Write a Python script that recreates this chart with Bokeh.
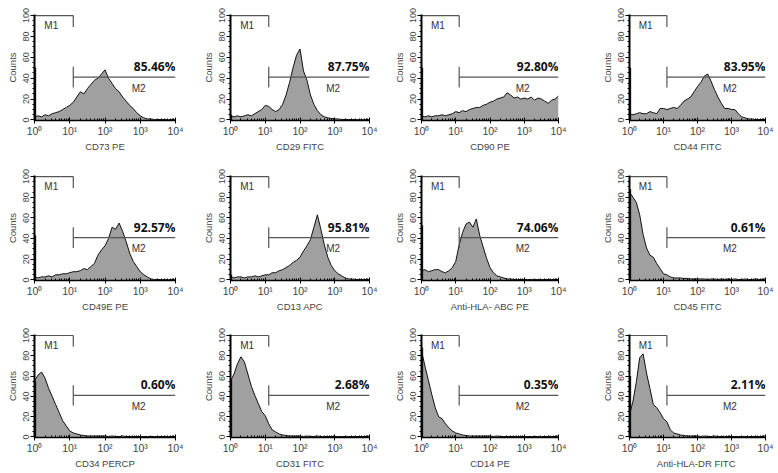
from bokeh.plotting import figure
from bokeh.layouts import gridplot
from bokeh.models import Range1d, FixedTicker, CustomJSTickFormatter
from bokeh.core.properties import value
from bokeh.embed import file_html
from bokeh.resources import INLINE

# log10 channel positions (decades) at which counts were read
decades = [0.0, 0.1, 0.2, 0.3, 0.4, 0.5, 0.6, 0.7, 0.8, 0.9,
           1.0, 1.1, 1.2, 1.3, 1.4, 1.5, 1.6, 1.7, 1.8, 1.9,
           2.0, 2.1, 2.2, 2.3, 2.4, 2.5, 2.6, 2.7, 2.8, 2.9,
           3.0, 3.1, 3.2, 3.3, 3.4, 3.5, 3.6, 3.7, 3.8, 3.9, 4.0]

cd73 = [3, 4, 3, 5, 4, 6, 7, 8, 10, 12,
        14, 17, 22, 27, 25, 30, 34, 38, 40, 44,
        48, 40, 35, 30, 27, 22, 18, 14, 11, 7,
        4, 2, 1, 1, 0.5, 0.5, 0.5, 0.3, 0.3, 0.3, 0.3]
cd29 = [4, 3, 4, 3, 4, 5, 4, 6, 8, 10,
        14, 13, 10, 8, 10, 15, 24, 36, 50, 62,
        68, 47, 38, 24, 15, 9, 5, 3, 2, 1.5,
        1, 1, 0.5, 0.5, 0.5, 0.5, 0.3, 0.3, 0.3, 0.3, 0.3]
cd90 = [4, 3, 4, 3, 4, 4, 5, 4, 5, 6,
        8, 7, 9, 8, 10, 11, 12, 12, 14, 15,
        17, 18, 20, 21, 22, 26, 24, 21, 22, 20,
        21, 20, 22, 19, 21, 20, 18, 16, 19, 20, 23]
cd44 = [6, 5, 6, 7, 6, 6, 8, 7, 6, 11,
        11, 10, 11, 12, 11, 14, 18, 20, 22, 27,
        32, 36, 42, 44, 37, 29, 22, 16, 11, 11,
        10, 10, 6, 3, 2, 1, 1, 0.5, 0.5, 0.5, 0.5]
cd49e = [3, 2, 3, 3, 4, 3, 5, 5, 6, 6,
         7, 8, 8, 9, 11, 10, 13, 16, 24, 29,
         33, 40, 51, 49, 55, 47, 37, 26, 18, 13,
         8, 5, 3, 1, 0.5, 0.5, 0.3, 0.3, 0.3, 0.3, 0.3]
cd13 = [3, 2, 3, 3, 2, 3, 3, 4, 3, 4,
        5, 5, 7, 7, 9, 10, 12, 14, 17, 19,
        22, 28, 33, 39, 51, 63, 49, 34, 22, 14,
        9, 6, 4, 2, 1, 1, 0.5, 0.5, 0.5, 0.5, 0.5]
hla_abc = [9, 10, 8, 9, 10, 10, 8, 7, 9, 12,
           18, 34, 46, 54, 56, 51, 59, 43, 32, 21,
           12, 7, 4, 3, 2, 1, 1, 0.5, 0.5, 0.5,
           0.5, 0.5, 0.5, 0.5, 0.5, 0.5, 0.5, 0.5, 0.5, 0.5, 0.5]
cd45 = [85, 80, 75, 63, 44, 31, 24, 22, 16, 11,
        6, 5, 3, 2, 2, 2, 1.5, 1.5, 1, 1,
        1, 1, 1, 0.5, 1, 1, 0.5, 1, 0.5, 1,
        0.5, 1, 0.5, 0.5, 1, 0.5, 0.5, 1, 0.5, 0.5, 1]
cd34 = [55, 61, 64, 58, 48, 40, 32, 24, 16, 11,
        6, 4, 3, 2, 1.5, 1, 1, 1, 1, 1,
        1, 0.5, 1, 0.5, 0.5, 1, 0.5, 0.5, 0.5, 0.5,
        0.5, 0.5, 0.5, 0.5, 0.5, 0.5, 0.5, 0.5, 0.5, 0.5, 0.5]
cd31 = [55, 62, 72, 79, 74, 62, 50, 41, 33, 25,
        21, 13, 7, 5, 3, 2, 1.5, 1, 1, 1,
        1, 0.5, 1, 0.5, 0.5, 1, 0.5, 0.5, 0.5, 0.5,
        0.5, 0.5, 0.5, 0.5, 0.5, 0.5, 0.5, 0.5, 0.5, 0.5, 1]
cd14 = [85, 70, 56, 42, 29, 20, 18, 13, 9, 6,
        4, 3, 2, 1.5, 1, 1, 1, 1, 1, 1,
        1, 0.5, 1, 0.5, 0.5, 0.5, 0.5, 0.5, 0.5, 0.5,
        0.5, 0.5, 0.5, 0.5, 0.5, 0.5, 0.5, 0.5, 0.5, 0.5, 1]
hla_dr = [22, 35, 54, 78, 82, 63, 48, 32, 29, 24,
          18, 15, 7, 4, 3, 2, 1.5, 1, 1, 1,
          1, 0.5, 1, 0.5, 0.5, 1, 0.5, 0.5, 0.5, 0.5,
          0.5, 0.5, 0.5, 0.5, 0.5, 0.5, 0.5, 0.5, 0.5, 0.5, 1]

series = [cd73, cd29, cd90, cd44, cd49e, cd13, hla_abc, cd45, cd34, cd31, cd14, hla_dr]
first_channel = [50, 5, 50, 50, 43, 5, 53, 88, 55, 57, 88, 60]
markers = ["CD73 PE", "CD29 FITC", "CD90 PE", "CD44 FITC",
           "CD49E PE", "CD13 APC", "Anti-HLA- ABC PE", "CD45 FITC",
           "CD34 PERCP", "CD31 FITC", "CD14 PE", "Anti-HLA-DR  FITC"]
m2_percent = ["85.46%", "87.75%", "92.80%", "83.95%",
              "92.57%", "95.81%", "74.06%", "0.61%",
              "0.60%", "2.68%", "0.35%", "2.11%"]

# gate definitions (M1: 10^0 .. gate_split, M2: gate_split .. 10^4)
gate_split = 12.6
m1_level = 100
m2_level = 41

x_ticks = [1, 10, 100, 1000, 10000]
x_minor = [m * 10 ** k for k in range(4) for m in range(2, 10)]
y_ticks = [0, 20, 40, 60, 80, 100]
y_minor = [v for v in range(0, 101, 5) if v % 20]

col_w = [196, 194, 208, 176]
left_b = [34, 34, 30, 30]
right_b = [21, 21, 40, 9]
row_h = [158, 158, 155]
top_b = [14, 17, 18]
bottom_b = [38, 36, 33]

FONT = value("Liberation Sans")
fmt = CustomJSTickFormatter(code="""
const s = ['\u2070', '\u00b9', '\u00b2', '\u00b3', '\u2074'];
const e = Math.round(Math.log10(tick));
return '10' + s[e];
""")


def make(i, r, c):
    p = figure(width=col_w[c], height=row_h[r], x_axis_type="log",
               x_range=Range1d(1, 10000), y_range=Range1d(-0.5, 101),
               output_backend="svg", toolbar_location=None,
               min_border_left=left_b[c], min_border_right=right_b[c],
               min_border_top=top_b[r], min_border_bottom=bottom_b[r])
    p.outline_line_color = None
    p.grid.visible = False
    p.background_fill_color = "white"
    xs = [10 ** d for d in decades]
    ys = series[i]
    p.varea(x=xs, y1=[0] * len(xs), y2=ys, fill_color="#a0a0a0")
    p.line(xs, ys, line_color="#111111", line_width=1)
    p.segment(x0=[1.045], y0=[0], x1=[1.045], y1=[first_channel[i]],
              line_color="#111111", line_width=2)
    gc = "#555555"
    p.line([1, gate_split], [m1_level, m1_level], line_color=gc, line_width=1.2)
    p.segment(x0=[gate_split], y0=[m1_level - 11], x1=[gate_split], y1=[m1_level],
              line_color=gc, line_width=1.2)
    p.line([gate_split, 10000], [m2_level, m2_level], line_color=gc, line_width=1.2)
    p.segment(x0=[gate_split], y0=[m2_level - 10], x1=[gate_split], y1=[m2_level + 10],
              line_color=gc, line_width=1.2)
    p.text(x=[3.0], y=[90], text=["M1"], text_font=FONT, text_font_size="10px",
           text_color="#333333", text_align="center", text_baseline="middle")
    p.text(x=[900], y=[30], text=["M2"], text_font=FONT, text_font_size="10px",
           text_color="#333333", text_align="center", text_baseline="middle")
    p.text(x=[10000], y=[m2_level + 2], text=[m2_percent[i]], text_font=value("Open Sans"),
           text_font_size="12px", text_font_style="bold", text_color="#111111",
           text_align="right", text_baseline="bottom")

    xa = p.xaxis[0]
    xa.ticker = FixedTicker(ticks=x_ticks, minor_ticks=x_minor)
    xa.formatter = fmt
    xa.axis_label = markers[i]
    xa.axis_label_text_font = "Liberation Sans"
    xa.axis_label_text_font_style = "normal"
    xa.axis_label_text_font_size = "9.5px"
    xa.axis_label_standoff = 1
    xa.major_label_text_font = "Liberation Sans"
    xa.major_label_text_font_size = "10.5px"
    xa.major_label_standoff = 1
    xa.axis_line_width = 1.5
    xa.major_tick_in = 3
    xa.major_tick_out = 3
    xa.minor_tick_in = 2
    xa.minor_tick_out = 0

    ya = p.yaxis[0]
    ya.ticker = FixedTicker(ticks=y_ticks, minor_ticks=y_minor)
    ya.axis_label = "Counts"
    ya.axis_label_text_font = "Liberation Sans"
    ya.axis_label_text_font_style = "normal"
    ya.axis_label_text_font_size = "9.5px"
    ya.axis_label_standoff = 3
    ya.major_label_text_font = "Liberation Sans"
    ya.major_label_text_font_size = "9px"
    ya.major_label_orientation = "parallel"
    ya.major_label_standoff = 1
    ya.axis_line_width = 2
    ya.major_tick_in = 0
    ya.major_tick_out = 4
    ya.minor_tick_in = 0
    ya.minor_tick_out = 2
    return p


children = []
for r in range(3):
    rowl = []
    for c in range(4):
        rowl.append(make(r * 4 + c, r, c))
    children.append(rowl)

grid = gridplot(children, toolbar_location=None)
open("out.html", "w").write(file_html(grid, INLINE))
